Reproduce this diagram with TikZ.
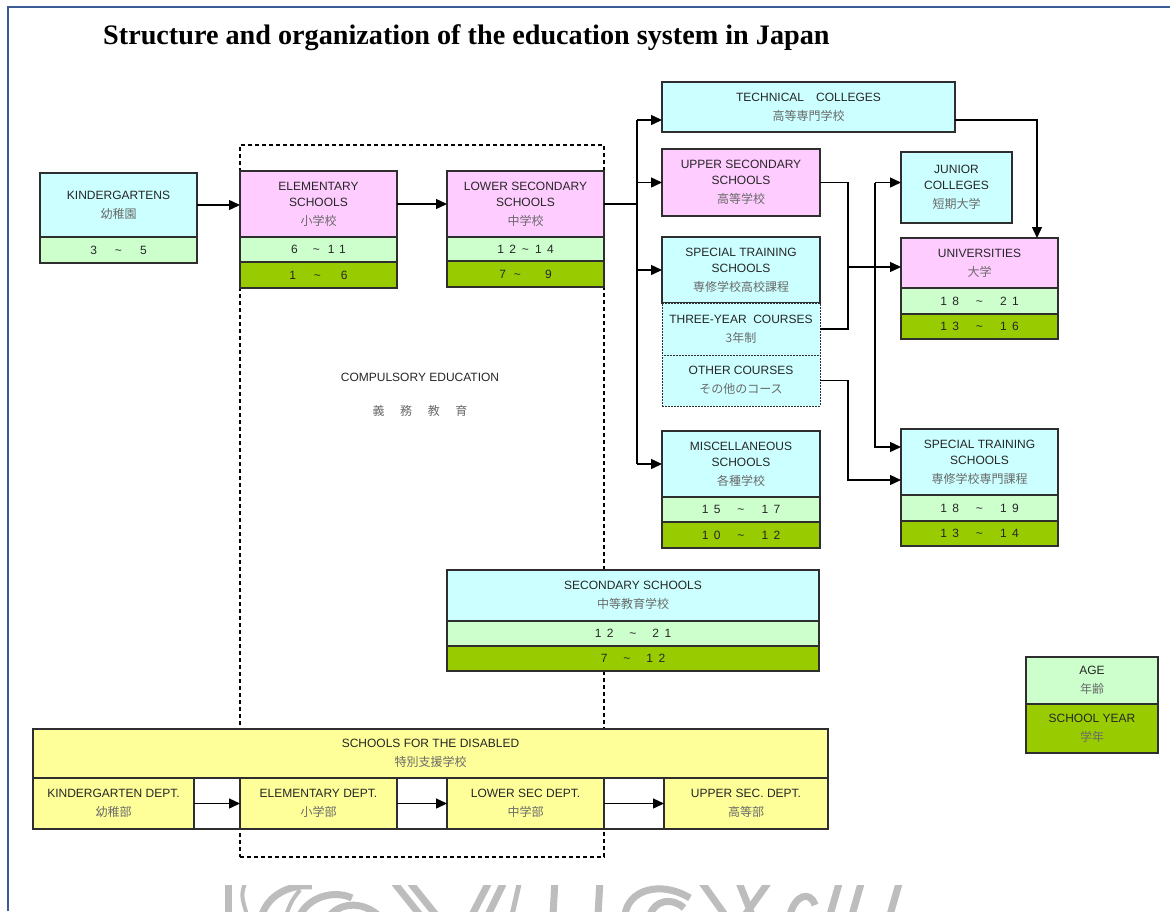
\documentclass[tikz,border=0pt]{standalone}
\usepackage{fontspec}
\setmainfont{Liberation Serif}
\newfontfamily\boxfont{Liberation Sans}
\newfontfamily\jpfont{Noto Sans CJK JP}
\usetikzlibrary{arrows.meta}

\definecolor{cyanfill}{HTML}{CCFFFF}
\definecolor{pinkfill}{HTML}{FFCCFF}
\definecolor{agefill}{HTML}{CCFFCC}
\definecolor{yearfill}{HTML}{99CC00}
\definecolor{yellowfill}{HTML}{FFFF99}
\definecolor{edgegray}{HTML}{2E2E2E}
\definecolor{jpgray}{HTML}{6A6A6A}
\definecolor{frameblue}{HTML}{3B5B94}
\definecolor{wmgray}{HTML}{BDBDBD}

% Japanese line under an English label
\newcommand\jp[1]{\\[3pt]{\jpfont\color{jpgray}#1}}
% age / year range: gap before and after the tilde
\newcommand\rng[4]{#1\hspace{#3pt}\textasciitilde\hspace{#4pt}#2}
% box given by its top-left and bottom-right corners
\newcommand\mkcell[7]{\node[#1, anchor=north west, minimum width={#5-#3}, minimum height={#6-#4}] (#2) at (#3,#4) {#7};}

\tikzset{
  cell/.style={draw=edgegray, line width=1.3pt, inner sep=0pt, outer sep=0pt,
    font=\boxfont\fontsize{12}{16}\selectfont, align=center, text=black!85},
  cyanbox/.style={cell, fill=cyanfill},
  pinkbox/.style={cell, fill=pinkfill},
  yelbox/.style={cell, fill=yellowfill},
  agerow/.style={cell, fill=agefill, font=\boxfont\fontsize{12}{16}\selectfont\addfontfeatures{LetterSpace=45}},
  yearrow/.style={cell, fill=yearfill, font=\boxfont\fontsize{12}{16}\selectfont\addfontfeatures{LetterSpace=45}},
  subbox/.style={cyanbox, line width=0.9pt, dash pattern=on 2pt off 1pt},
  link/.style={draw=black, line width=1.4pt},
  arr/.style={link, -{Triangle[length=11pt,width=10pt]}},
  wm/.style={draw=wmgray, line width=7pt},
}

\begin{document}
\begin{tikzpicture}[x=1pt, y=-1pt]
\useasboundingbox (0,0) rectangle (1170,911);
\fill[white] (0,0) rectangle (1170,911);

% page frame
\draw[frameblue, line width=1.4pt] (8,911) -- (8,7);
\draw[frameblue, line width=2.4pt] (7.3,7) -- (1170,7);

% title
\node[anchor=west, font=\bfseries\fontsize{28.2}{32}\selectfont, inner sep=0pt] (title) at (103,38)
  {Structure and organization of the education system in Japan};

% compulsory education frame
\node[draw=black, line width=1.2pt, dash pattern=on 4pt off 3pt, inner sep=0pt, outer sep=0pt,
  anchor=north west, minimum width=364, minimum height=712] (ce) at (240,145) {};
\node[font=\boxfont\fontsize{12}{16}\selectfont, align=center, text=black!85] (cetext) at (420,395)
  {COMPULSORY EDUCATION\\[18pt]{\jpfont\color{jpgray}義\hspace{1.3em}務\hspace{1.3em}教\hspace{1.3em}育}};

% kindergarten, elementary, lower secondary
\mkcell{cyanbox}{kg}{40}{173}{197}{237}{KINDERGARTENS\jp{幼稚園}}
\mkcell{agerow}{kga}{40}{237}{197}{263}{\rng{3}{5}{18}{18}}
\mkcell{pinkbox}{el}{240}{171}{397}{237}{ELEMENTARY\\SCHOOLS\jp{小学校}}
\mkcell{agerow}{ela}{240}{237}{397}{262}{\rng{6}{11}{15}{8}}
\mkcell{yearrow}{ely}{240}{262}{397}{288}{\rng{1}{6}{18}{20}}
\mkcell{pinkbox}{ls}{447}{171}{604}{237}{LOWER SECONDARY\\SCHOOLS\jp{中学校}}
\mkcell{agerow}{lsa}{447}{237}{604}{261}{\rng{12}{14}{6}{6}}
\mkcell{yearrow}{lsy}{447}{261}{604}{287}{\rng{7}{9}{8}{24}}

% upper secondary level
\mkcell{cyanbox}{tc}{662}{82}{955}{132}{TECHNICAL\quad COLLEGES\jp{高等専門学校}}
\mkcell{pinkbox}{us}{662}{149}{820}{216}{UPPER SECONDARY\\SCHOOLS\jp{高等学校}}
\mkcell{cyanbox}{st}{662}{237}{820}{303}{SPECIAL TRAINING\\SCHOOLS\jp{専修学校高校課程}}
\mkcell{subbox}{ty}{662}{303}{820}{355}{THREE-YEAR\ \ COURSES\jp{3年制}}
\mkcell{subbox}{oc}{662}{355}{820}{406}{OTHER COURSES\jp{その他のコース}}
\mkcell{cyanbox}{mi}{662}{431}{820}{497}{MISCELLANEOUS\\SCHOOLS\jp{各種学校}}
\mkcell{agerow}{mia}{662}{497}{820}{522}{\rng{15}{17}{17}{17}}
\mkcell{yearrow}{miy}{662}{522}{820}{548}{\rng{10}{12}{17}{17}}

% higher education
\mkcell{cyanbox}{jc}{901}{152}{1012}{223}{JUNIOR\\COLLEGES\jp{短期大学}}
\mkcell{pinkbox}{un}{901}{238}{1058}{288}{UNIVERSITIES\jp{大学}}
\mkcell{agerow}{una}{901}{288}{1058}{314}{\rng{18}{21}{17}{17}}
\mkcell{yearrow}{uny}{901}{314}{1058}{339}{\rng{13}{16}{17}{17}}
\mkcell{cyanbox}{ps}{901}{429}{1058}{495}{SPECIAL TRAINING\\SCHOOLS\jp{専修学校専門課程}}
\mkcell{agerow}{psa}{901}{495}{1058}{521}{\rng{18}{19}{17}{17}}
\mkcell{yearrow}{psy}{901}{521}{1058}{546}{\rng{13}{14}{17}{17}}

% secondary schools
\mkcell{cyanbox}{ss}{447}{570}{819}{621}{SECONDARY SCHOOLS\jp{中等教育学校}}
\mkcell{agerow}{ssa}{447}{621}{819}{646}{\rng{12}{21}{16}{16}}
\mkcell{yearrow}{ssy}{447}{646}{819}{671}{\rng{7}{12}{16}{16}}

% legend
\mkcell{cell, fill=agefill}{lga}{1026}{657}{1158}{704}{AGE\jp{年齢}}
\mkcell{cell, fill=yearfill}{lgy}{1026}{704}{1158}{753}{SCHOOL YEAR\jp{学年}}

% schools for the disabled
\mkcell{yelbox}{sd}{33}{729}{828}{778}{SCHOOLS FOR THE DISABLED\jp{特別支援学校}}
\mkcell{cell, fill=white}{sdrow}{33}{778}{828}{829}{}
\mkcell{yelbox}{dk}{33}{778}{194}{829}{KINDERGARTEN DEPT.\jp{幼稚部}}
\mkcell{yelbox}{de}{240}{778}{397}{829}{ELEMENTARY DEPT.\jp{小学部}}
\mkcell{yelbox}{dl}{447}{778}{604}{829}{LOWER SEC DEPT.\jp{中学部}}
\mkcell{yelbox}{du}{664}{778}{828}{829}{UPPER SEC. DEPT.\jp{高等部}}

% connectors: compulsory path
\draw[arr] (kg.east) -- (kg.east -| el.west);
\draw[arr] (el.east) -- (el.east -| ls.west);
\coordinate (trunk) at (637,204);
\coordinate (tcin) at ([yshift=-13pt]tc.west);
\draw[link] (ls.east) -- (ls.east -| trunk);
\draw[link] (trunk |- tcin) -- (trunk |- mi.west);
\draw[arr] (trunk |- tcin) -- (tcin);
\draw[arr] (trunk |- us.west) -- (us.west);
\draw[arr] (trunk |- st.west) -- (st.west);
\draw[arr] (trunk |- mi.west) -- (mi.west);

% connectors: towards higher education
\coordinate (tcout) at ([yshift=-13pt]tc.east);
\coordinate (ujoin) at (1037,0);
\draw[arr] (tcout) -- (tcout -| ujoin) -- (ujoin |- un.north);
\coordinate (bus) at (848,0);
\coordinate (unin) at ([yshift=-4pt]un.west);
\draw[link] (us.east) -- (us.east -| bus) -- (bus |- ty.east) -- (ty.east);
\draw[arr] (unin -| bus) -- (unin);
\coordinate (jbus) at (875,0);
\coordinate (jcin) at ([yshift=5pt]jc.west);
\coordinate (psin1) at ([yshift=15pt]ps.west);
\coordinate (psin2) at ([yshift=-18pt]ps.west);
\draw[arr] (jcin -| jbus) -- (jcin);
\draw[arr] (jcin -| jbus) -- (psin1 -| jbus) -- (psin1);
\draw[arr] (oc.east) -- (oc.east -| bus) -- (bus |- psin2) -- (psin2);

% connectors: departments for the disabled
\draw[arr] (dk.east) -- (de.west);
\draw[arr] (de.east) -- (dl.west);
\draw[arr] (dl.east) -- (du.west);

% emblem at the foot of the page
\begin{scope}
\clip (0,885) rectangle (1170,911);
\draw[wm] (228,880) -- (228,915);
\draw[wm, line width=4pt] (246,880) .. controls (241,895) .. (247,915);
\draw[wm] (262,915) .. controls (268,895) and (290,884) .. (312,886);
\draw[wm] (300,915) .. controls (310,896) and (335,890) .. (352,898);
\draw[wm, line width=4pt] (286,915) .. controls (292,900) .. (300,890);
\draw[wm] (330,915) .. controls (340,904) and (360,900) .. (378,915);
\draw[wm] (392,880) -- (420,915);
\draw[wm] (408,880) -- (436,915);
\draw[wm] (490,880) -- (472,915);
\draw[wm] (505,880) -- (488,915);
\draw[wm, line width=5pt] (520,880) -- (512,915);
\draw[wm] (555,880) -- (553,915);
\draw[wm] (600,880) -- (598,915);
\draw[wm] (625,915) .. controls (628,890) and (660,880) .. (690,898);
\draw[wm] (650,915) .. controls (655,900) and (672,897) .. (684,908);
\draw[wm] (700,880) -- (725,915);
\draw[wm] (738,880) -- (752,915);
\draw[wm] (770,880) -- (745,915);
\draw[wm] (790,915) .. controls (795,895) and (810,890) .. (815,905);
\draw[wm] (840,880) -- (830,915);
\draw[wm] (862,880) -- (852,915);
\draw[wm] (900,880) -- (890,915);
\end{scope}
\end{tikzpicture}
\end{document}
